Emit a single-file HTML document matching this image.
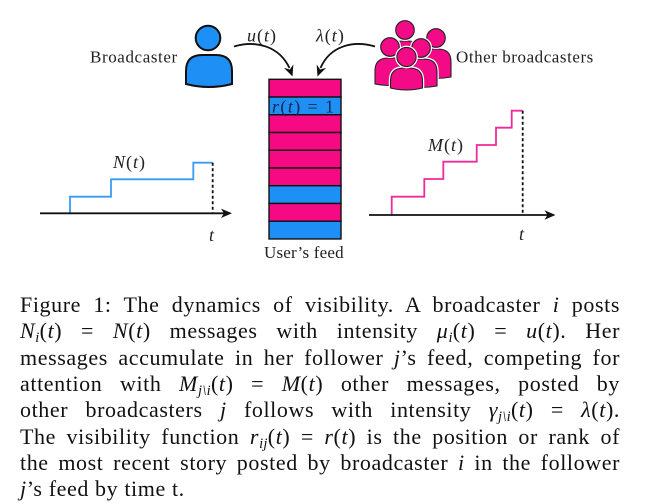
<!DOCTYPE html>
<html><head><meta charset="utf-8">
<style>
html,body{margin:0;padding:0;background:#fff;}
body{width:656px;height:504px;position:relative;overflow:hidden;}
svg{position:absolute;left:0;top:0;}
.l{position:absolute;left:20px;width:600px;font-family:"Liberation Serif",serif;font-size:22px;line-height:22px;letter-spacing:0.6px;color:#111;text-align:justify;text-align-last:justify;white-space:nowrap;}
.l.last{text-align-last:left;white-space:nowrap;}
.s{font-size:14.5px;vertical-align:-4px;line-height:0;letter-spacing:0.3px;}
</style></head><body>
<svg width="656" height="290" viewBox="0 0 656 290" xmlns="http://www.w3.org/2000/svg">
  <g font-family="Liberation Serif, serif" fill="#222">
    <text x="90" y="62.5" font-size="17" letter-spacing="0.6">Broadcaster</text>
    <text x="456" y="62.5" font-size="17" letter-spacing="0.55">Other broadcasters</text>
    <text x="247" y="41.5" font-size="18" letter-spacing="1"><tspan font-style="italic">u</tspan>(<tspan font-style="italic">t</tspan>)</text>
    <text x="316" y="41.5" font-size="18" letter-spacing="1"><tspan font-style="italic">λ</tspan>(<tspan font-style="italic">t</tspan>)</text>
    <text x="113" y="168" font-size="18" letter-spacing="1"><tspan font-style="italic">N</tspan>(<tspan font-style="italic">t</tspan>)</text>
    <text x="428" y="151" font-size="18" letter-spacing="1"><tspan font-style="italic">M</tspan>(<tspan font-style="italic">t</tspan>)</text>
    <text x="209" y="241" font-size="18" font-style="italic">t</text>
    <text x="519" y="240" font-size="18" font-style="italic">t</text>
    <text x="264" y="258" font-size="17" letter-spacing="0.2">User’s feed</text>
  </g>

  <!-- Broadcaster icon -->
  <g stroke="#111" stroke-width="2" fill="#1e8ff5">
    <path d="M186,84 L186,71 Q186,55 202,55 L216,55 Q232,55 232,71 L232,84 Q209,90 186,84 Z"/>
    <circle cx="208" cy="38" r="12.3"/>
  </g>

  <!-- Other broadcasters icon -->
  <g fill="#f20a86">
    <g>
      <path d="M389,67 L389,54 Q389,41 402,41 L408,41 Q421,41 421,54 L421,67 Q405,70 389,67 Z" stroke="#fff" stroke-width="3.5"/>
      <path d="M389,67 L389,54 Q389,41 402,41 L408,41 Q421,41 421,54 L421,67 Q405,70 389,67 Z" stroke="#222" stroke-width="1.1"/>
      <circle cx="405" cy="30" r="9.3" stroke="#fff" stroke-width="3.5"/>
      <circle cx="405" cy="30" r="9.3" stroke="#222" stroke-width="1.1"/>
    </g>
    <g>
      <path d="M420,77 L420,62 Q420,49 433,49 L438,49 Q451,49 451,62 L451,77 Q435,80 420,77 Z" stroke="#fff" stroke-width="3.5"/>
      <path d="M420,77 L420,62 Q420,49 433,49 L438,49 Q451,49 451,62 L451,77 Q435,80 420,77 Z" stroke="#222" stroke-width="1.1"/>
      <circle cx="436" cy="38" r="9.3" stroke="#fff" stroke-width="3.5"/>
      <circle cx="436" cy="38" r="9.3" stroke="#222" stroke-width="1.1"/>
    </g>
    <g>
      <path d="M375,84 L375,71 Q375,58 388,58 L394,58 Q407,58 407,71 L407,84 Q391,87 375,84 Z" stroke="#fff" stroke-width="3.5"/>
      <path d="M375,84 L375,71 Q375,58 388,58 L394,58 Q407,58 407,71 L407,84 Q391,87 375,84 Z" stroke="#222" stroke-width="1.1"/>
      <circle cx="390" cy="47" r="9.3" stroke="#fff" stroke-width="3.5"/>
      <circle cx="390" cy="47" r="9.3" stroke="#222" stroke-width="1.1"/>
    </g>
    <g>
      <path d="M405,86 L405,72 Q405,59 418,59 L424,59 Q437,59 437,72 L437,86 Q421,89 405,86 Z" stroke="#fff" stroke-width="3.5"/>
      <path d="M405,86 L405,72 Q405,59 418,59 L424,59 Q437,59 437,72 L437,86 Q421,89 405,86 Z" stroke="#222" stroke-width="1.1"/>
      <circle cx="421" cy="48" r="9.3" stroke="#fff" stroke-width="3.5"/>
      <circle cx="421" cy="48" r="9.3" stroke="#222" stroke-width="1.1"/>
    </g>
    <g>
      <path d="M390.5,88 L390.5,81 Q390.5,68 403.5,68 L409.5,68 Q422.5,68 422.5,81 L422.5,88 Q406.5,92 390.5,88 Z" stroke="#fff" stroke-width="3.5"/>
      <path d="M390.5,88 L390.5,81 Q390.5,68 403.5,68 L409.5,68 Q422.5,68 422.5,81 L422.5,88 Q406.5,92 390.5,88 Z" stroke="#222" stroke-width="1.1"/>
      <circle cx="406.5" cy="57" r="9.6" stroke="#fff" stroke-width="3.5"/>
      <circle cx="406.5" cy="57" r="9.6" stroke="#222" stroke-width="1.1"/>
    </g>
  </g>

  <!-- curved arrows -->
  <g fill="none" stroke="#111" stroke-width="1.8">
    <path d="M234,46.5 C256,40 279,46 289.5,68"/>
    <path d="M375,46.5 C353,40 330,46 320.5,68"/>
  </g>
  <g fill="#111">
    <polygon points="292.5,76.5 293.35,64.41 289.9,69.45 283.95,67.91"/>
    <polygon points="317.5,76.5 316.65,64.41 320.1,69.45 326.05,67.91"/>
  </g>

  <!-- feed -->
  <g stroke="#111" stroke-width="1.4">
    <rect x="269" y="79.3" width="72" height="17.74" fill="#f50a84"/>
    <rect x="269" y="97.04" width="72" height="17.74" fill="#1e8ff5"/>
    <rect x="269" y="114.78" width="72" height="17.74" fill="#f50a84"/>
    <rect x="269" y="132.52" width="72" height="17.74" fill="#f50a84"/>
    <rect x="269" y="150.26" width="72" height="17.74" fill="#f50a84"/>
    <rect x="269" y="168" width="72" height="17.74" fill="#f50a84"/>
    <rect x="269" y="185.74" width="72" height="17.74" fill="#1e8ff5"/>
    <rect x="269" y="203.48" width="72" height="17.74" fill="#f50a84"/>
    <rect x="269" y="221.22" width="72" height="17.74" fill="#1e8ff5"/>
  </g>
  <text x="272" y="112.5" font-family="Liberation Serif, serif" font-size="18" fill="#13284d" textLength="62" lengthAdjust="spacing"><tspan font-style="italic">r</tspan>(<tspan font-style="italic">t</tspan>) = 1</text>

  <!-- left chart -->
  <path d="M70,213.3 V196.7 H111 V179.3 H193.3 V162.7 H212.7" fill="none" stroke="#3a9bf2" stroke-width="1.8"/>
  <line x1="212.7" y1="162.7" x2="212.7" y2="213" stroke="#111" stroke-width="1.8" stroke-dasharray="3,2.5"/>
  <line x1="40" y1="213.3" x2="226" y2="213.3" stroke="#111" stroke-width="1.8"/>
  <polygon points="232,213.3 221,208.6 224,213.3 221,218" fill="#111"/>

  <!-- right chart -->
  <path d="M391.7,215 V196.7 H424.3 V179 H443.3 V161.7 H476.7 V145 H496 V127.7 H511.7 V110.7 H522.7" fill="none" stroke="#ee2a9c" stroke-width="1.8"/>
  <line x1="522.7" y1="110.7" x2="522.7" y2="215" stroke="#111" stroke-width="1.8" stroke-dasharray="3,2.5"/>
  <line x1="369" y1="215" x2="549" y2="215" stroke="#111" stroke-width="1.8"/>
  <polygon points="555.5,215 544.5,210.3 547.5,215 544.5,219.7" fill="#111"/>
</svg>

<div class="l" style="top:294.1px">Figure 1: The dynamics of visibility. A broadcaster <i>i</i> posts</div>
<div class="l" style="top:320.4px"><i>N<span class="s">i</span></i>(<i>t</i>) = <i>N</i>(<i>t</i>) messages with intensity <i>μ<span class="s">i</span></i>(<i>t</i>) = <i>u</i>(<i>t</i>). Her</div>
<div class="l" style="top:346.7px">messages accumulate in her follower <i>j</i>’s feed, competing for</div>
<div class="l" style="top:373px">attention with <i>M<span class="s">j\i</span></i>(<i>t</i>) = <i>M</i>(<i>t</i>) other messages, posted by</div>
<div class="l" style="top:399.3px">other broadcasters <i>j</i> follows with intensity <i>γ<span class="s">j\i</span></i>(<i>t</i>) = <i>λ</i>(<i>t</i>).</div>
<div class="l" style="top:425.6px">The visibility function <i>r<span class="s">ij</span></i>(<i>t</i>) = <i>r</i>(<i>t</i>) is the position or rank of</div>
<div class="l" style="top:451.9px">the most recent story posted by broadcaster <i>i</i> in the follower</div>
<div class="l last" style="top:478.2px"><i>j</i>’s feed by time t.</div>
</body></html>
